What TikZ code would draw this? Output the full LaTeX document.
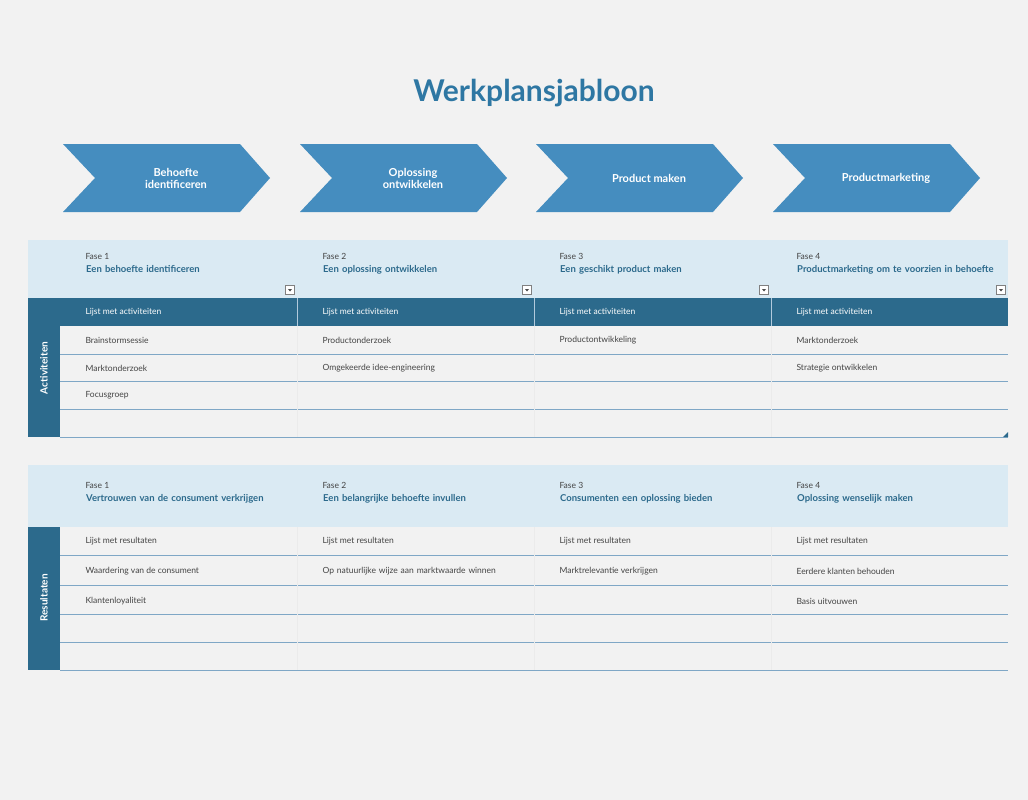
\documentclass[tikz,border=0pt]{standalone}
\usepackage{fontspec}
\setmainfont{Lato}
\usetikzlibrary{positioning}
\definecolor{titleblue}{HTML}{2E77A3}
\definecolor{chevblue}{HTML}{458DBF}
\definecolor{darkblue}{HTML}{2C6A8C}
\definecolor{lightblue}{HTML}{DAEAF3}
\definecolor{rowline}{HTML}{7FA7C6}
\definecolor{pagegray}{HTML}{F2F2F2}
\definecolor{textgray}{HTML}{444444}
\begin{document}
\begin{tikzpicture}
[x=1pt,y=-1pt,
 chevron/.style={fill=chevblue,draw=none},
 chevtext/.style={text=white,font=\bfseries\fontsize{11}{12}\selectfont,align=center},
 fase/.style={anchor=west,text=textgray,font=\fontsize{8.5}{10}\selectfont},
 phase/.style={anchor=north west,text=darkblue,font=\bfseries\fontsize{9.5}{11}\selectfont,align=left,text width=205pt},
 cell/.style={anchor=west,text=textgray,font=\fontsize{8.5}{10}\selectfont,align=left},
 headcell/.style={anchor=west,text=white,font=\fontsize{8.5}{10}\selectfont},
 sidelabel/.style={rotate=90,text=white,font=\bfseries\fontsize{10}{12}\selectfont},
 rule/.style={draw=rowline,line width=1pt},
 dropbox/.style={draw=gray,fill=white,minimum size=9pt,inner sep=0pt,
   path picture={\fill[black!70] ([xshift=-2pt,yshift=1pt]path picture bounding box.center) -- ([xshift=2pt,yshift=1pt]path picture bounding box.center) -- ([yshift=-1.5pt]path picture bounding box.center) -- cycle;}}]
\fill[pagegray] (0,0) rectangle (1028,800);
\useasboundingbox (0,0) rectangle (1028,800);
\node[text=titleblue,font=\bfseries\fontsize{30}{34}\selectfont] (title) at (534,93) {Werkplansjabloon};
% chevrons
\foreach \x/\txt [count=\i] in {63/{Behoefte\\identificeren},300/{Oplossing\\ontwikkelen},536/{Product maken},773/{Productmarketing}}{
  \fill[chevron] (\x,144) -- (\x+177,144) -- (\x+207,178) -- (\x+177,212) -- (\x,212) -- (\x+32,178) -- cycle;
  \node[chevtext] (chev\i) at (\x+113,178) {\txt};
}
% table activiteiten
\fill[lightblue] (28,240) rectangle (1008,298);
\fill[darkblue] (28,298) rectangle (1008,326);
\fill[darkblue] (28,326) rectangle (60,437);
\node[sidelabel] (act) at (44,368) {Activiteiten};
\foreach \y in {354,381,409,437} \draw[rule] (60,\y) -- (1008,\y);
\foreach \x in {297,534,771} {
  \draw[rowline!60,line width=1pt] (\x,298) -- (\x,326);
  \draw[black!8] (\x,326) -- (\x,437);
}
\foreach \x/\nm/\txt [count=\i] in {60/a/{Een behoefte identificeren},297/b/{Een oplossing ontwikkelen},534/c/{Een geschikt product maken},771/d/{Productmarketing om te voorzien in behoefte}}{
  \node[fase] (fa\i) at (\x+22,256) {Fase \i};
  \node[phase,inner sep=0pt] (pa\i) at (\x+26,265) {\txt};
  \node[dropbox] (dd\i) at (\x+230,290) {};
  \node[headcell] (ha\i) at (\x+22,312) {Lijst met activiteiten};
}
\node[cell] (a11) at (82,340) {Brainstormsessie};
\node[cell] (a12) at (82,368) {Marktonderzoek};
\node[cell] (a13) at (82,395) {Focusgroep};
\node[cell] (a21) at (319,340) {Productonderzoek};
\node[cell] (a22) at (319,368) {Omgekeerde idee-engineering};
\node[cell] (a31) at (556,340) {Productontwikkeling};
\node[cell] (a41) at (793,340) {Marktonderzoek};
\node[cell] (a42) at (793,368) {Strategie ontwikkelen};
\fill[darkblue] (1003,437) -- (1008,437) -- (1008,432) -- cycle;
% table resultaten
\fill[lightblue] (28,465) rectangle (1008,527);
\fill[darkblue] (28,527) rectangle (60,670);
\node[sidelabel] (res) at (44,598) {Resultaten};
\foreach \y in {555,585,614,642,670} \draw[rule] (60,\y) -- (1008,\y);
\foreach \x in {297,534,771} \draw[black!8] (\x,527) -- (\x,670);
\foreach \x/\txt [count=\i] in {60/{Vertrouwen van de consument verkrijgen},297/{Een belangrijke behoefte invullen},534/{Consumenten een oplossing bieden},771/{Oplossing wenselijk maken}}{
  \node[fase] (fb\i) at (\x+22,485) {Fase \i};
  \node[phase,inner sep=0pt,text width=185pt] (pb\i) at (\x+26,494) {\txt};
  \node[cell] (hb\i) at (\x+22,541) {Lijst met resultaten};
}
\node[cell] (b11) at (82,571) {Waardering van de consument};
\node[cell] (b12) at (82,601) {Klantenloyaliteit};
\node[cell,text width=200pt] (b21) at (319,571) {Op natuurlijke wijze aan marktwaarde winnen};
\node[cell] (b31) at (556,571) {Marktrelevantie verkrijgen};
\node[cell] (b41) at (793,571) {Eerdere klanten behouden};
\node[cell] (b42) at (793,601) {Basis uitvouwen};
\end{tikzpicture}
\end{document}
